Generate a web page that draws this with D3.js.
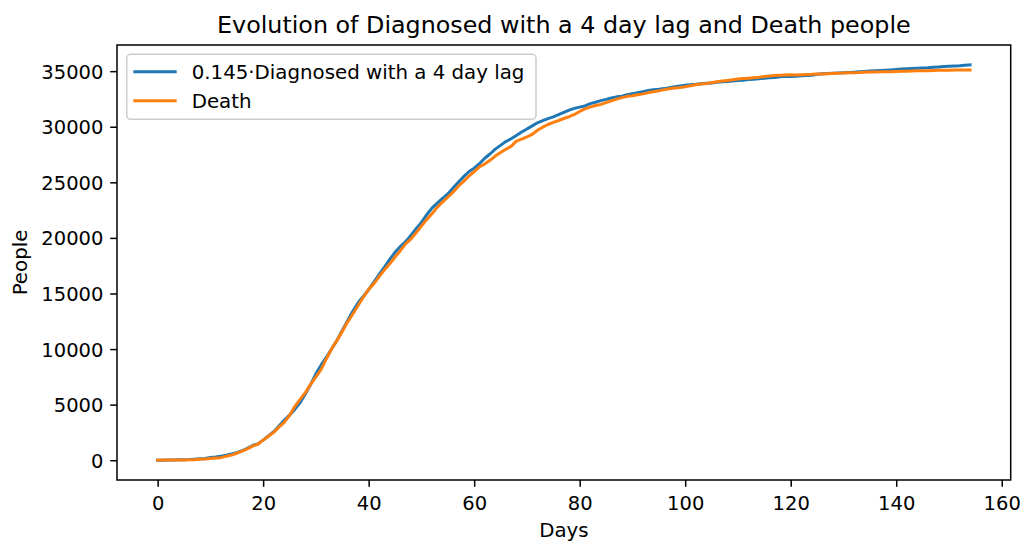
<!DOCTYPE html>
<html>
<head>
<meta charset="utf-8">
<script src="https://cdn.jsdelivr.net/npm/d3@7/dist/d3.min.js"></script>
<style>
body { margin: 0; background: #fff; }
svg { font-family: "DejaVu Sans", sans-serif; }
</style>
</head>
<body>
<svg width="1026" height="545"></svg>
<script>
// 0.145 * diagnosed, shifted by 4 days
var diagnosedLag = [0,3,11,22,33,47,58,94,129,164,246,295,363,448,559,672,853,1069,1330,1472,
	1807,2191,2561,3068,3588,4057,4568,5178,5950,6818,7769,8575,9269,10031,10786,11678,12542,13408,14165,14752,
	15340,16033,16710,17375,18072,18697,19219,19660,20216,20826,21399,22079,22673,23130,23561,23948,24496,25003,25509,25951,
	26278,26674,27162,27546,27984,28326,28663,28915,29218,29521,29792,30077,30353,30554,30731,30887,31096,31299,31492,31649,
	31765,31873,32076,32205,32349,32463,32590,32688,32753,32871,32968,33061,33155,33252,33329,33373,33430,33515,33601,33676,
	33736,33788,33814,33860,33906,33932,34007,34046,34075,34115,34156,34186,34241,34264,34314,34363,34407,34438,34485,34533,
	34512,34550,34582,34614,34631,34714,34757,34794,34820,34845,34863,34884,34910,34939,34972,35006,35034,35064,35084,35112,
	35143,35183,35210,35244,35268,35285,35308,35342,35375,35411,35443,35470,35489,35530,35574];

var death = [7,10,12,17,21,29,34,52,79,107,148,197,233,366,463,631,827,1016,1266,1441,
	1809,2158,2503,2978,3405,4032,4825,5476,6077,6820,7503,8165,9134,10023,10779,11591,12428,13155,13915,14681,
	15362,15887,16523,17127,17669,18279,18849,19468,19899,20465,21067,21645,22170,22745,23227,23660,24114,24648,25085,25549,
	25969,26384,26644,26977,27359,27682,27967,28236,28710,28884,29079,29315,29684,29958,30201,30395,30560,30739,30911,31106,
	31368,31610,31763,31908,32007,32169,32330,32486,32616,32735,32785,32877,32955,33072,33142,33229,33340,33415,33475,33530,
	33601,33689,33774,33846,33899,33964,34043,34114,34167,34223,34301,34345,34371,34405,34448,34514,34561,34610,34634,34657,
	34675,34644,34678,34708,34716,34738,34744,34767,34788,34818,34833,34854,34861,34869,34899,34914,34926,34938,34945,34954,
	34967,34984,34997,35017,35028,35042,35045,35058,35073,35082,35092,35097,35102,35107,35112];

var days = death.map((d, i) => i);
var xTicks = [0, 20, 40, 60, 80, 100, 120, 140, 160];
var yTicks = [0, 5000, 10000, 15000, 20000, 25000, 30000, 35000];
var seriesNames = ["0.145\u00b7Diagnosed with a 4 day lag", "Death"];
var colors = ["#1f77b4", "#ff7f0e"];

const svg = d3.select("svg"),
	margin = {top: 45, right: 15.3, bottom: 65, left: 117},
	width = 1026 - margin.left - margin.right,
	height = 545 - margin.top - margin.bottom,
	g = svg.append("g").attr("transform", `translate(${margin.left},${margin.top})`);

// matplotlib style 5% margins
var xmax = d3.max(days), xpad = xmax * 0.05;
var ymin = d3.min([d3.min(diagnosedLag), d3.min(death)]),
	ymax = d3.max([d3.max(diagnosedLag), d3.max(death)]),
	ypad = (ymax - ymin) * 0.05;

const x = d3.scaleLinear().domain([-xpad, xmax + xpad]).range([0, width]);
const y = d3.scaleLinear().domain([ymin - ypad, ymax + ypad]).range([height, 0]);

const tickFont = 19.5;

var xAxis = g.append("g")
	.attr("transform", `translate(0,${height})`)
	.call(d3.axisBottom(x).tickValues(xTicks).tickFormat(d3.format("d")).tickSize(6.8).tickSizeOuter(0));
xAxis.select(".domain").remove();
xAxis.selectAll("line").attr("stroke", "#000").attr("stroke-width", 1.5);
xAxis.selectAll("text").attr("y", 30).attr("dy", 0)
	.attr("font-size", tickFont).attr("font-family", "DejaVu Sans").attr("fill", "#000");

var yAxis = g.append("g")
	.call(d3.axisLeft(y).tickValues(yTicks).tickFormat(d3.format("d")).tickSize(6.8).tickSizeOuter(0));
yAxis.select(".domain").remove();
yAxis.selectAll("line").attr("stroke", "#000").attr("stroke-width", 1.5);
yAxis.selectAll("text").attr("x", -13.6).attr("dy", "0.36em")
	.attr("font-size", tickFont).attr("font-family", "DejaVu Sans").attr("fill", "#000");

var line = d3.line()
	.x((d, i) => x(days[i]))
	.y(d => y(d));

[diagnosedLag, death].forEach(function(s, k) {
	g.append("path")
		.datum(s)
		.attr("fill", "none")
		.attr("stroke", colors[k])
		.attr("stroke-width", 3)
		.attr("stroke-linejoin", "round")
		.attr("stroke-linecap", "square")
		.attr("d", line);
});

// spines
g.append("rect")
	.attr("width", width).attr("height", height)
	.attr("fill", "none").attr("stroke", "#000").attr("stroke-width", 1.5);

// legend
var leg = g.append("g").attr("transform", "translate(9.7,9.3)");
leg.append("rect")
	.attr("width", 409.3).attr("height", 65)
	.attr("rx", 4).attr("ry", 4)
	.attr("fill", "#fff").attr("fill-opacity", 0.8)
	.attr("stroke", "#cccccc").attr("stroke-width", 1.5);
seriesNames.forEach(function(name, k) {
	var ly = 17.4 + k * 29;
	leg.append("line")
		.attr("x1", 6.6).attr("x2", 50)
		.attr("y1", ly).attr("y2", ly)
		.attr("stroke", colors[k]).attr("stroke-width", 3);
	leg.append("text")
		.attr("x", 65).attr("y", ly + 7.3)
		.attr("font-size", 19.8)
		.attr("fill", "#000")
		.text(name);
});

// title and labels
svg.append("text")
	.attr("x", margin.left + width / 2).attr("y", 33)
	.attr("text-anchor", "middle")
	.attr("font-size", 23.8)
	.attr("fill", "#000")
	.text("Evolution of Diagnosed with a 4 day lag and Death people");

svg.append("text")
	.attr("x", margin.left + width / 2).attr("y", 537)
	.attr("text-anchor", "middle")
	.attr("font-size", 19.8)
	.attr("fill", "#000")
	.text("Days");

svg.append("text")
	.attr("transform", `translate(27,${margin.top + height / 2}) rotate(-90)`)
	.attr("text-anchor", "middle")
	.attr("font-size", 19.8)
	.attr("fill", "#000")
	.text("People");
</script>
</body>
</html>
